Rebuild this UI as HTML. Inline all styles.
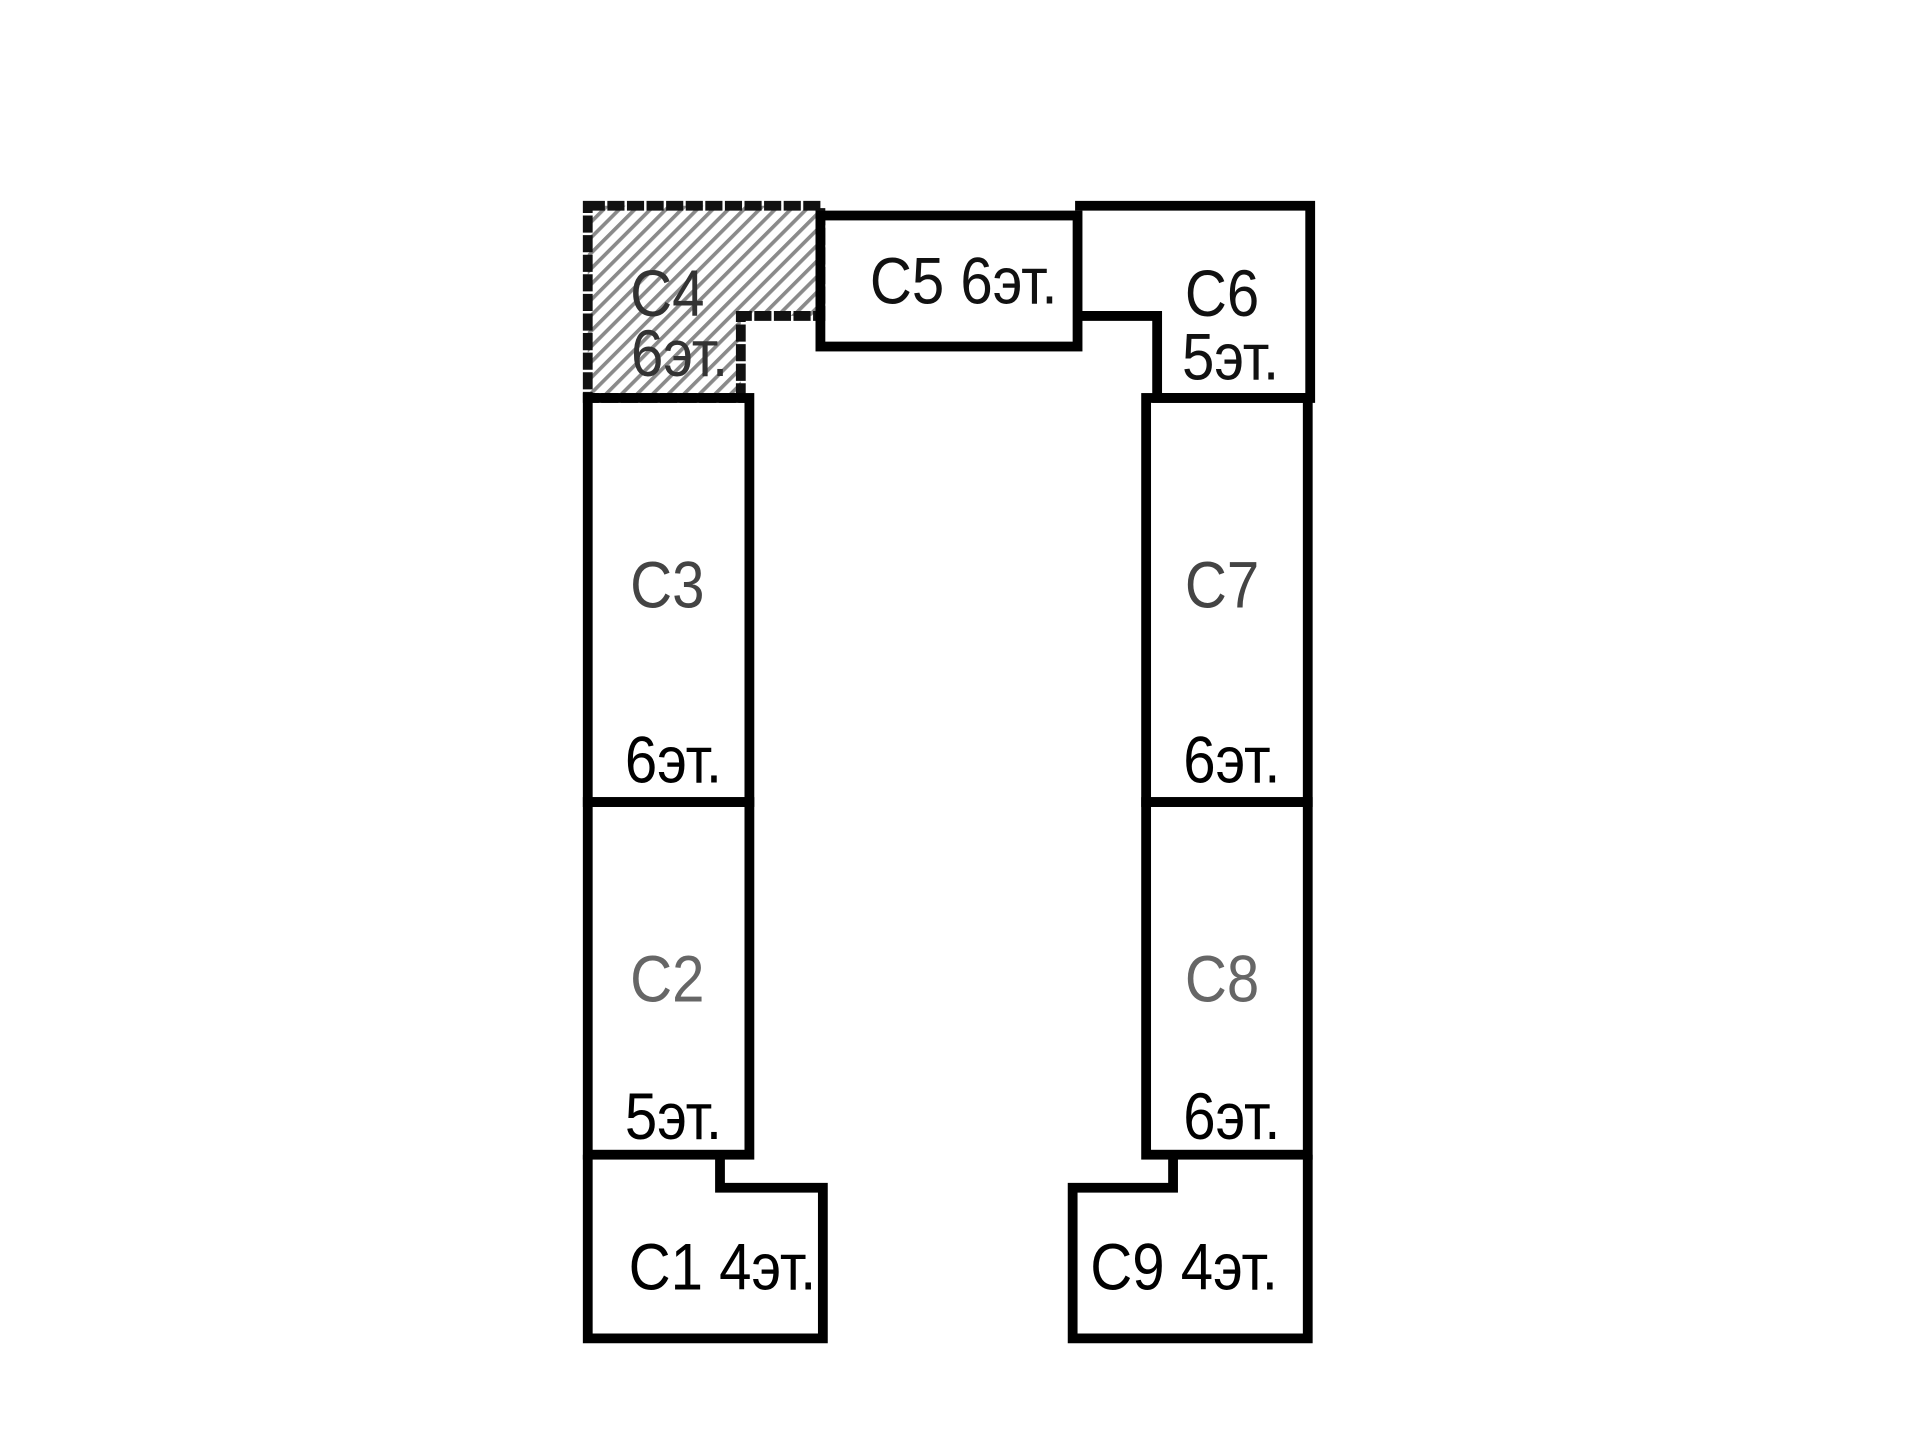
<!DOCTYPE html>
<html><head><meta charset="utf-8"><style>
html,body{margin:0;padding:0;background:#fff;}
svg{display:block;}
text{font-family:"Liberation Sans",sans-serif;font-size:54px;}
</style></head><body>
<svg width="1920" height="1440" viewBox="0 0 1568 1176" xmlns="http://www.w3.org/2000/svg">
<defs>
<pattern id="h" width="9" height="9" patternUnits="userSpaceOnUse" patternTransform="rotate(45)">
<rect width="9" height="9" fill="#fff"/>
<rect width="3" height="9" fill="#8a8a8a"/>
</pattern>
</defs>
<path d="M480 168 H670 V258 H605 V325 H480 Z" fill="url(#h)" stroke="#111" stroke-width="8" stroke-dasharray="14 2"/>
<g fill="none" stroke="#000" stroke-width="8" stroke-linejoin="miter">
<rect x="670" y="176" width="210" height="107"/>
<path d="M878 168 H1070 V325 H945 V258 H880"/>
<rect x="480" y="325" width="132" height="330"/>
<rect x="480" y="655" width="132" height="288"/>
<rect x="936" y="325" width="132" height="330"/>
<rect x="936" y="655" width="132" height="288"/>
<path d="M480 943 V1093 H672 V970 H588 V943"/>
<path d="M1068 943 V1093 H876 V970 H958 V943"/>
</g>
<g text-anchor="middle">
<g fill="#333">
<text x="545" y="258" transform="translate(545 0) scale(0.88 1) translate(-545 0)">C4</text>
<text x="555" y="307" transform="translate(555 0) scale(0.88 1) translate(-555 0)">6эт.</text>
</g>
<text x="787" y="248" fill="#111" transform="translate(787 0) scale(0.88 1) translate(-787 0)">C5  6эт.</text>
<text x="998" y="258" fill="#111" transform="translate(998 0) scale(0.88 1) translate(-998 0)">C6</text>
<text x="1005" y="310" fill="#111" transform="translate(1005 0) scale(0.88 1) translate(-1005 0)">5эт.</text>
<g fill="#444">
<text x="545" y="496" transform="translate(545 0) scale(0.88 1) translate(-545 0)">C3</text>
<text x="998" y="496" transform="translate(998 0) scale(0.88 1) translate(-998 0)">C7</text>
<text x="545" y="818" fill="#666" transform="translate(545 0) scale(0.88 1) translate(-545 0)">C2</text>
<text x="998" y="818" fill="#666" transform="translate(998 0) scale(0.88 1) translate(-998 0)">C8</text>
</g>
<g fill="#000">
<text x="550" y="639" transform="translate(550 0) scale(0.88 1) translate(-550 0)">6эт.</text>
<text x="1006" y="639" transform="translate(1006 0) scale(0.88 1) translate(-1006 0)">6эт.</text>
<text x="550" y="930" transform="translate(550 0) scale(0.88 1) translate(-550 0)">5эт.</text>
<text x="1006" y="930" transform="translate(1006 0) scale(0.88 1) translate(-1006 0)">6эт.</text>
<text x="590" y="1053" transform="translate(590 0) scale(0.88 1) translate(-590 0)">C1  4эт.</text>
<text x="967" y="1053" transform="translate(967 0) scale(0.88 1) translate(-967 0)">C9  4эт.</text>
</g>
</g>
</svg>
</body></html>
